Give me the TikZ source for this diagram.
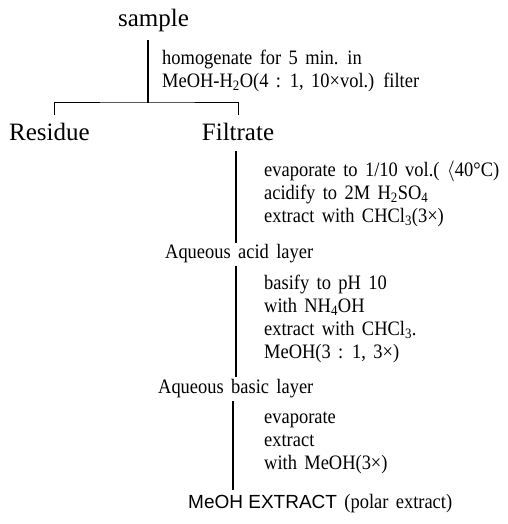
\documentclass[tikz,border=0pt]{standalone}
\usepackage{fontspec}
\setmainfont{Liberation Serif}
\newfontfamily\condfont[FakeStretch=0.9, WordSpace=1.6]{Liberation Serif}
\newfontfamily\hlvfont{Liberation Sans}
\usepackage{tikz}
\usetikzlibrary{positioning}

\begin{document}
\begin{tikzpicture}[
      x=1pt, y=-1pt,
      big/.style={font=\fontsize{25}{28}\selectfont, inner sep=0pt},
      txt/.style={font=\condfont\fontsize{20.5}{23}\selectfont,
        align=left, anchor=west, inner sep=0pt},
      lbl/.style={font=\condfont\fontsize{20.5}{23}\selectfont,
        anchor=west, inner sep=0pt},
      stem/.style={line width=1.3pt},
      brk/.style={line width=1pt},
    ]
    \useasboundingbox (0,0) rectangle (507,524);
    % sample and homogenisation
    \node[big] (sample) at (153.5,20) {sample};
    \coordinate (s1top) at (148,40);
    \coordinate (s1bot) at (148,103);
    \draw[stem] (s1top) -- (s1bot);
    \node[txt] (homog) at (162,71) {homogenate for 5 min. in\\
      MeOH-H\textsubscript{2}O(4 : 1, 10×vol.) filter};
    % split into residue / filtrate
    \coordinate (bl) at (54,115);
    \coordinate (br) at (238,115);
    \draw[brk] (bl) |- (s1bot) -| (br);
    \node[big, anchor=west] (residue) at (9,132) {Residue};
    \node[big] (filtrate) at (238,132) {Filtrate};
    % filtrate -> aqueous acid layer
    \coordinate (s2top) at (236,151);
    \coordinate (s2bot) at (236,243);
    \draw[stem] (s2top) -- (s2bot);
    \node[txt] (acidstep) at (264,194) {evaporate to 1/10 vol.( $\langle$40°C)\\
      acidify to 2M H\textsubscript{2}SO\textsubscript{4}\\
      extract with CHCl\textsubscript{3}(3×)};
    \node[lbl] (acid) at (165,254) {Aqueous acid layer};
    % aqueous acid -> aqueous basic layer
    \coordinate (s3top) at (236,266);
    \coordinate (s3bot) at (236,377);
    \draw[stem] (s3top) -- (s3bot);
    \node[txt] (basestep) at (264,319) {basify to pH 10\\
      with NH\textsubscript{4}OH\\
      extract with CHCl\textsubscript{3}.\\
      MeOH(3 : 1, 3×)};
    \node[lbl] (basic) at (158,389) {Aqueous basic layer};
    % aqueous basic -> methanol extract
    \coordinate (s4top) at (233,401);
    \coordinate (s4bot) at (233,490);
    \draw[stem] (s4top) -- (s4bot);
    \node[txt] (evapstep) at (264,443) {evaporate\\
      extract\\
      with MeOH(3×)};
    \node[lbl] (meoh) at (188,504) {{\hlvfont\fontsize{19}{21}\selectfont MeOH EXTRACT} (polar extract)};
  \end{tikzpicture}
\end{document}
